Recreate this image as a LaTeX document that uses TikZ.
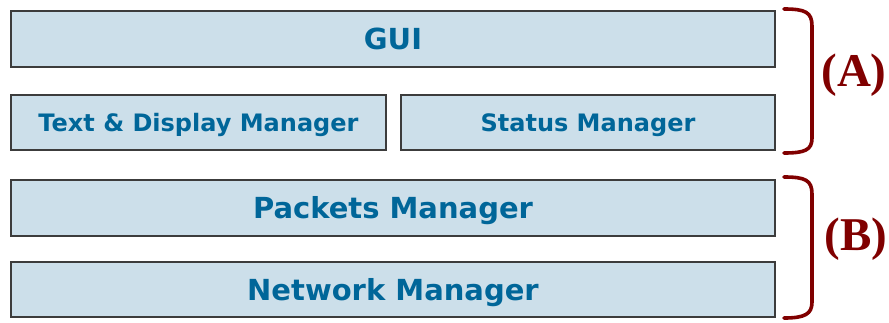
\documentclass[tikz,border=0pt]{standalone}
\usepackage{fontspec}
\setmainfont{DejaVu Sans}
\newfontfamily\labfont{Liberation Serif}
\definecolor{boxfill}{RGB}{204,223,234}
\definecolor{boxtext}{RGB}{0,102,153}
\definecolor{boxline}{RGB}{60,60,60}
\definecolor{bracered}{RGB}{128,0,0}
\begin{document}
\begin{tikzpicture}[x=1pt,y=-1pt,
  layer/.style={draw=boxline,line width=1.3pt,fill=boxfill,inner sep=0pt,outer sep=0pt,
    text=boxtext,font=\bfseries\fontsize{29}{32}\selectfont,text height=21pt,text depth=0pt},
  small/.style={font=\bfseries\fontsize{24}{27}\selectfont,text height=17.5pt,text depth=0pt},
  bracepath/.style={draw=bracered,line width=3.6pt,line cap=round},
  grouplabel/.style={text=bracered,font=\labfont\bfseries\fontsize{47}{50}\selectfont,inner sep=0pt}]
\useasboundingbox (0,0) rectangle (889,322);
\node[layer,minimum width=764pt,minimum height=56pt] (gui) at (393,39) {GUI};
\node[layer,small,minimum width=375pt,minimum height=55pt] (tdm) at (198.5,122.5) {Text \& Display Manager};
\node[layer,small,minimum width=374pt,minimum height=55pt] (stm) at (588,122.5) {Status Manager};
\node[layer,minimum width=764pt,minimum height=56pt] (pkm) at (393,208) {Packets Manager};
\node[layer,minimum width=764pt,minimum height=55pt] (nwm) at (393,289.5) {Network Manager};
\draw[bracepath] (784,9) .. controls (805,9) and (812,12) .. (812,26) -- (812,138) .. controls (812,150) and (805,153) .. (784,153);
\draw[bracepath] (784,177) .. controls (805,177) and (812,180) .. (812,194) -- (812,302) .. controls (812,314) and (805,318) .. (784,318);
\node[grouplabel] (la) at (854,75) {(A)};
\node[grouplabel] (lb) at (856,239) {(B)};
\end{tikzpicture}
\end{document}
